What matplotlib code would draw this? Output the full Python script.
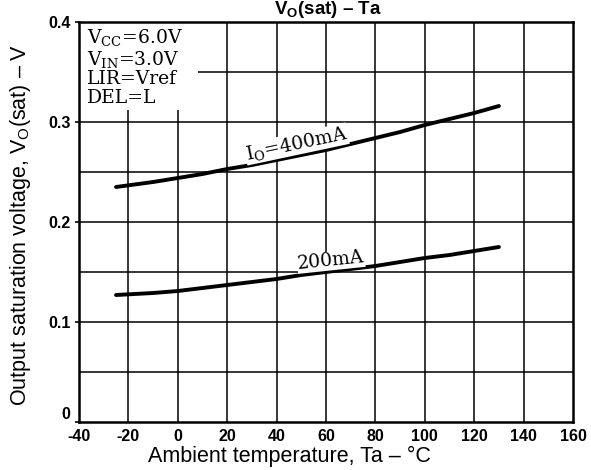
import matplotlib
matplotlib.use("Agg")
import matplotlib.pyplot as plt
from matplotlib.patches import Rectangle

plt.rcParams['mathtext.fontset'] = 'custom'
plt.rcParams['mathtext.rm'] = 'Liberation Sans'
plt.rcParams['mathtext.it'] = 'Liberation Sans:italic'
plt.rcParams['mathtext.bf'] = 'Liberation Sans:bold'

# Data
temp_400 = [-25, -10, 0, 10, 20, 30, 40, 50, 60, 70, 80, 90, 100, 110, 120, 130]
vsat_400 = [0.235, 0.240, 0.244, 0.248, 0.253, 0.257, 0.262, 0.267, 0.272, 0.278,
            0.284, 0.290, 0.297, 0.303, 0.309, 0.316]
temp_200 = [-25, -10, 0, 10, 20, 30, 40, 50, 60, 70, 80, 90, 100, 110, 120, 130]
vsat_200 = [0.127, 0.129, 0.131, 0.134, 0.137, 0.140, 0.143, 0.147, 0.150, 0.153,
            0.156, 0.160, 0.164, 0.167, 0.171, 0.175]

x_ticks = [-40, -20, 0, 20, 40, 60, 80, 100, 120, 140, 160]
x_tick_labels = ["-40", "-20", "0", "20", "40", "60", "80", "100", "120", "140", "160"]
y_ticks = [0, 0.1, 0.2, 0.3, 0.4]
y_tick_labels = ["0", "0.1", "0.2", "0.3", "0.4"]
y_grid = [0.05, 0.1, 0.15, 0.2, 0.25, 0.3, 0.35]
conditions = [r"V$_{\mathrm{CC}}$=6.0V", r"V$_{\mathrm{IN}}$=3.0V", "LIR=Vref", "DEL=L"]

W, H = 591, 470
fig = plt.figure(figsize=(W / 100, H / 100), dpi=100)
ax = fig.add_axes([79 / W, 48 / H, 494 / W, 400 / H])
ax.set_xlim(-40, 160)
ax.set_ylim(0, 0.4)

for x in x_ticks[1:-1]:
    ax.axvline(x, color='black', lw=1.1, zorder=1)
for y in y_grid:
    ax.axhline(y, color='black', lw=1.1, zorder=1)

ax.add_patch(Rectangle((-40, 0.312), 48, 0.088, facecolor='white', edgecolor='none', zorder=2))

ax.plot(temp_400, vsat_400, color='black', lw=2.8, zorder=3, solid_capstyle='round')
ax.plot(temp_200, vsat_200, color='black', lw=2.8, zorder=3, solid_capstyle='round')

ax.text(48, 0.278, r"I$_{\mathrm{O}}$=400mA", family='DejaVu Serif', math_fontfamily='dejavuserif',
        fontsize=13.5, rotation=12, ha='center', va='center', zorder=4,
        bbox=dict(facecolor='white', edgecolor='none', pad=0.3))
ax.text(62, 0.161, "200mA", family='DejaVu Serif', fontsize=13.5, rotation=6,
        ha='center', va='center', zorder=4,
        bbox=dict(facecolor='white', edgecolor='none', pad=0.3))

cond_y = [0.384, 0.363, 0.343, 0.324]
for s, yy in zip(conditions, cond_y):
    ax.text(-36.8, yy, s, family='DejaVu Serif', math_fontfamily='dejavuserif',
            fontsize=13.5, ha='left', va='center', zorder=4)

ax.set_xticks(x_ticks)
ax.set_xticklabels(x_tick_labels, fontsize=11.5, fontweight='bold', family='Liberation Sans')
ax.set_yticks(y_ticks)
ax.set_yticklabels(y_tick_labels, fontsize=11.5, fontweight='bold', family='Liberation Sans')
ax.tick_params(axis='x', length=0, pad=5)
ax.tick_params(axis='y', length=3, width=1.2, pad=3, direction='out')
ax.get_yticklabels()[0].set_verticalalignment('bottom')
for sp in ax.spines.values():
    sp.set_linewidth(1.8)
    sp.set_zorder(5)

fig.text(289 / W, 1 - 462 / H, "Ambient temperature, Ta – °C", family='Liberation Sans',
         fontsize=15.5, ha='center', va='baseline')
fig.text(8 / W, 1 - 225 / H, r"Output saturation voltage, V$_{\mathrm{O}}$(sat) – V",
         family='Liberation Sans', fontsize=15.5, rotation=90, ha='left', va='center')
fig.text(328 / W, 1 - 14 / H, r"V$_{\mathbf{O}}$(sat) – Ta", family='Liberation Sans',
         fontweight='bold', fontsize=13.5, ha='center', va='baseline')

fig.savefig("out.png", dpi=100)
